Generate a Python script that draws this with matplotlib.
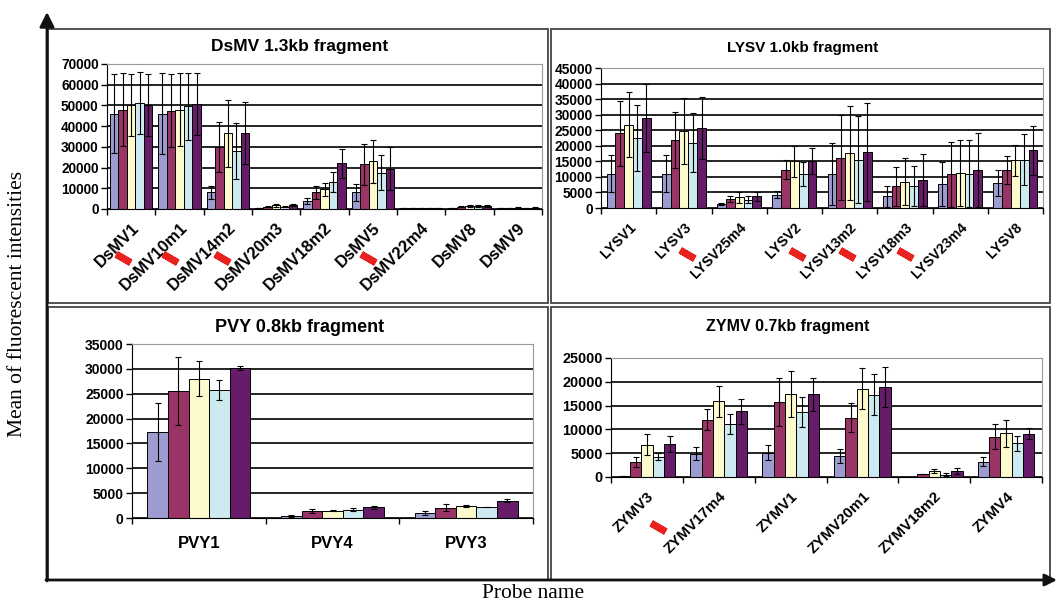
import numpy as np
import matplotlib
matplotlib.use("Agg")
from matplotlib import pyplot as plt
from matplotlib.patches import Rectangle
from matplotlib.transforms import offset_copy

plt.rcParams['font.family'] = ['Liberation Sans', 'DejaVu Sans']

# five samples per probe, same order in every panel
bar_colors = ['#9c9cd0', '#9b3466', '#fdfacd', '#cdeaf0', '#661c68']

# DsMV 1.3kb fragment
dsmv_probes = ['DsMV1', 'DsMV10m1', 'DsMV14m2', 'DsMV20m3', 'DsMV18m2',
               'DsMV5', 'DsMV22m4', 'DsMV8', 'DsMV9']
dsmv_mean = [[46000, 48000, 50000, 51000, 50000],
             [46000, 47500, 48000, 49500, 50500],
             [8000, 30000, 36500, 28000, 36500],
             [500, 1200, 1700, 1200, 2000],
             [4000, 8000, 9500, 13000, 22000],
             [8000, 21500, 23000, 17500, 19500],
             [300, 300, 300, 300, 300],
             [500, 1200, 1500, 1300, 1500],
             [300, 400, 600, 400, 700]]
dsmv_err = [[19000, 17500, 15000, 15000, 15000],
            [19500, 17500, 17500, 16000, 15000],
            [3000, 12000, 16000, 13500, 15000],
            [200, 300, 500, 400, 500],
            [1500, 3000, 3000, 5000, 7000],
            [4000, 10000, 10500, 8500, 10500],
            [0, 0, 0, 0, 0],
            [200, 400, 500, 400, 500],
            [0, 100, 200, 100, 200]]

# LYSV 1.0kb fragment
lysv_probes = ['LYSV1', 'LYSV3', 'LYSV25m4', 'LYSV2', 'LYSV13m2',
               'LYSV18m3', 'LYSV23m4', 'LYSV8']
lysv_mean = [[11000, 24000, 26800, 22500, 29000],
             [11000, 22000, 24800, 21000, 25800],
             [1300, 2800, 3500, 2700, 3700],
             [4300, 12300, 15000, 11000, 15000],
             [11000, 16200, 17700, 15500, 18000],
             [3700, 7000, 8500, 7000, 9000],
             [7800, 10800, 11300, 11000, 12200],
             [8000, 12200, 15300, 15500, 18500]]
lysv_err = [[6000, 10500, 10500, 10500, 11000],
            [6000, 9000, 10500, 9500, 10000],
            [300, 1000, 1800, 1000, 1600],
            [1200, 3000, 5000, 3800, 4200],
            [10000, 13700, 15200, 14000, 15800],
            [3300, 6300, 7500, 6500, 8200],
            [7000, 10500, 10700, 10800, 11800],
            [4200, 4400, 5000, 8200, 8000]]

# PVY 0.8kb fragment
pvy_probes = ['PVY1', 'PVY4', 'PVY3']
pvy_mean = [[17300, 25500, 28000, 25700, 30200],
            [500, 1500, 1500, 1700, 2200],
            [1000, 2100, 2500, 2300, 3500]]
pvy_err = [[5900, 6800, 3500, 2000, 400],
           [200, 400, 150, 300, 300],
           [400, 700, 200, 0, 300]]

# ZYMV 0.7kb fragment
zymv_probes = ['ZYMV3', 'ZYMV17m4', 'ZYMV1', 'ZYMV20m1', 'ZYMV18m2', 'ZYMV4']
zymv_mean = [[300, 3100, 6800, 4300, 6900],
             [4900, 12000, 15900, 11100, 13800],
             [5100, 15700, 17400, 13600, 17400],
             [4400, 12500, 18500, 17300, 19000],
             [100, 600, 1300, 500, 1300],
             [3200, 8500, 9200, 7100, 9100]]
zymv_err = [[0, 1000, 2200, 800, 1700],
            [1300, 2200, 3300, 2100, 2600],
            [1600, 5000, 4800, 3200, 3500],
            [1400, 3000, 4300, 4300, 4200],
            [0, 0, 400, 300, 600],
            [900, 2700, 2800, 1600, 1100]]

W, H = 1057, 604
fig = plt.figure(figsize=(W / 100, H / 100), dpi=100)

# background layer in pixel units: frames, arrows, outer labels
bg = fig.add_axes([0, 0, 1, 1])
bg.set_xlim(0, W)
bg.set_ylim(H, 0)
bg.axis('off')

for x0, y0, x1, y1 in [(48, 29, 548, 303), (551, 29, 1050, 303),
                       (48, 307, 548, 580), (551, 307, 1050, 580)]:
    bg.add_patch(Rectangle((x0, y0), x1 - x0, y1 - y0, fill=False,
                           edgecolor='#444444', lw=1.3))

bg.annotate('', xy=(47, 12), xytext=(47, 581),
            arrowprops=dict(arrowstyle='-|>', lw=2, color='#111111',
                            mutation_scale=22, shrinkA=0, shrinkB=0))
bg.annotate('', xy=(1057, 580), xytext=(46, 580),
            arrowprops=dict(arrowstyle='-|>', lw=2, color='#111111',
                            mutation_scale=18, shrinkA=0, shrinkB=0))
bg.text(18, 304, 'Mean of fluorescent intensities', rotation=90,
        ha='center', va='center', fontsize=15.5, family='Liberation Serif')
bg.text(533, 594, 'Probe name', ha='center', va='center',
        fontsize=15.5, family='Liberation Serif')


def panel(box, probes, mean, err, ymax, ystep, title, title_xy, title_size,
          tick_size, label_size, group=0.8, rotate=True, label_pad=8,
          marks=(), mark_drop=48):
    x0, x1, ytop, ybot = box
    ax = fig.add_axes([x0 / W, 1 - ybot / H, (x1 - x0) / W, (ybot - ytop) / H])
    mean = np.array(mean)
    err = np.array(err)
    n = len(probes)
    x = np.arange(n)
    w = group / 5
    for j in range(5):
        xs = x + (j - 2) * w
        ax.bar(xs, mean[:, j], width=w, color=bar_colors[j],
               edgecolor='black', lw=0.7, zorder=2)
        ax.errorbar(xs, mean[:, j], yerr=err[:, j], fmt='none',
                    ecolor='black', elinewidth=0.8, capsize=2.2,
                    capthick=0.8, zorder=3)
    ax.set_xlim(-0.5, n - 0.5)
    ax.set_ylim(0, ymax)
    ax.set_yticks(np.arange(0, ymax + 1, ystep))
    ax.set_yticklabels([str(v) for v in np.arange(0, ymax + 1, ystep)],
                       fontsize=tick_size, fontweight='bold')
    ax.yaxis.grid(True, color='black', lw=1.2)
    ax.set_axisbelow(True)
    for s in ['top', 'right']:
        ax.spines[s].set_color('#999999')
    for s in ['left', 'bottom']:
        ax.spines[s].set_color('black')
    ax.tick_params(axis='y', length=4, width=1, pad=2)
    ax.set_xticks(x)
    ax.set_xticks(np.arange(-0.5, n, 1), minor=True)
    ax.tick_params(axis='x', which='minor', length=4, width=1)
    ax.tick_params(axis='x', which='major', length=0, pad=label_pad)
    if rotate:
        ax.set_xticklabels(probes, rotation=45, ha='right', va='top',
                           rotation_mode='anchor', fontsize=label_size,
                           fontweight='bold')
    else:
        ax.set_xticklabels(probes, fontsize=label_size, fontweight='bold')
    if marks:
        tr = offset_copy(ax.get_xaxis_transform(), fig=fig, x=0,
                         y=-mark_drop, units='dots')
        ax.plot(marks, [0] * len(marks), transform=tr, ls='none',
                marker=(2, 2, 60), ms=12, mew=5, mec='#e8231f',
                clip_on=False, zorder=5)
    bg.text(title_xy[0], title_xy[1], title, ha='center', va='center',
            fontsize=title_size, fontweight='bold')
    return ax


panel((107, 542, 64, 209), dsmv_probes, dsmv_mean, dsmv_err, 70000, 10000,
      'DsMV 1.3kb fragment', (300, 47), 12.5, 9.8, 12, group=0.88,
      label_pad=8, marks=[-0.17, 0.8, 1.88, 4.9], mark_drop=49)
panel((601, 1043, 68, 208), lysv_probes, lysv_mean, lysv_err, 45000, 5000,
      'LYSV 1.0kb fragment', (803, 48), 11, 9.9, 10.2, group=0.8,
      label_pad=9, marks=[1.06, 3.05, 3.95, 5.0], mark_drop=46)
panel((132, 533, 344, 518), pvy_probes, pvy_mean, pvy_err, 35000, 5000,
      'PVY 0.8kb fragment', (300, 327), 13, 10, 12, group=0.77,
      rotate=False, label_pad=13)
panel((611, 1042, 358, 477), zymv_probes, zymv_mean, zymv_err, 25000, 5000,
      'ZYMV 0.7kb fragment', (788, 327), 11.5, 10.4, 10.9, group=0.79,
      label_pad=9, marks=[0.15], mark_drop=50)

fig.savefig('out.png', dpi=100)
